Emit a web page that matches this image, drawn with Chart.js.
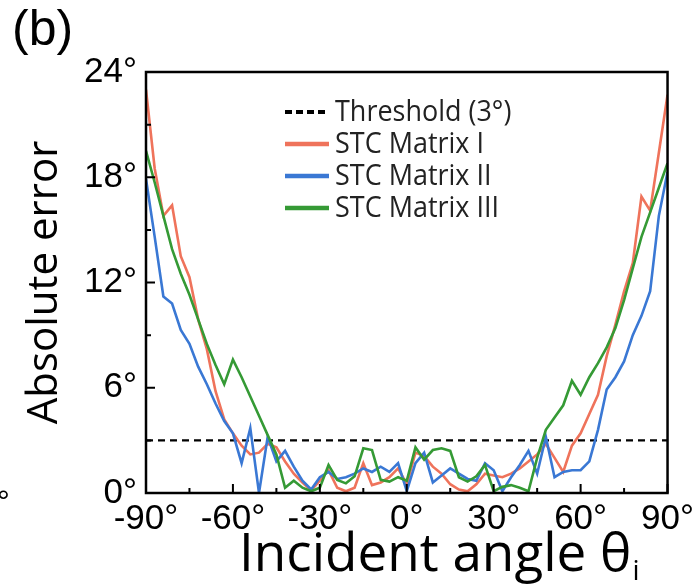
<!DOCTYPE html>
<html>
<head>
<meta charset="utf-8">
<script src="https://cdn.jsdelivr.net/npm/chart.js@4.4.0/dist/chart.umd.min.js"></script>
<style>
  body { margin: 0; background: #fff; }
  #wrap { width: 699px; height: 586px; }
</style>
</head>
<body>
<div id="wrap"><canvas id="myChart" width="699" height="586"></canvas></div>
<script>
// incident angles (deg)
const angles = [-90, -87, -84, -81, -78, -75, -72, -69, -66, -63, -60, -57, -54, -51, -48, -45, -42, -39, -36, -33,
  -30, -27, -24, -21, -18, -15, -12, -9, -6, -3, 0, 3, 6, 9, 12, 15, 18, 21, 24, 27,
  30, 33, 36, 39, 42, 45, 48, 51, 54, 57, 60, 63, 66, 69, 72, 75, 78, 81, 84, 87, 90];

// absolute error (deg)
const matrixI = [23.0, 18.5, 15.8, 16.4, 13.5, 12.3, 9.9, 8.2, 5.8, 4.2, 3.4, 2.7, 2.2, 2.3, 2.8, 2.6, 1.8, 1.1, 0.6, 0.15,
  0.7, 1.3, 0.3, 0.1, 0.3, 1.7, 0.45, 0.6, 0.9, 1.4, 0.5, 2.3, 2.1, 1.5, 1.1, 0.5, 0.2, 0.1, 0.5, 1.1,
  1.0, 0.9, 1.1, 1.4, 1.8, 2.2, 2.8, 2.0, 1.2, 2.7, 3.4, 4.5, 5.6, 7.8, 9.6, 11.5, 13.1, 16.9, 16.1, 19.4, 22.7];
const matrixII = [17.9, 14.6, 11.2, 10.8, 9.3, 8.5, 7.2, 6.2, 5.1, 4.1, 3.4, 1.7, 3.7, 0.0, 3.2, 1.8, 2.4, 1.5, 0.7, 0.2,
  0.9, 1.2, 0.8, 0.9, 1.1, 1.4, 1.2, 1.5, 1.2, 1.7, 0.1, 1.7, 2.3, 0.6, 1.0, 1.4, 1.1, 0.8, 0.7, 1.7,
  1.3, 0.1, 0.9, 1.6, 2.4, 1.1, 3.2, 0.9, 1.2, 1.3, 1.3, 1.8, 3.6, 5.9, 6.6, 7.5, 9.0, 10.1, 11.5, 15.8, 18.3];
const matrixIII = [19.5, 17.7, 15.8, 13.9, 12.5, 11.3, 9.9, 8.5, 7.3, 6.2, 7.6, 6.6, 5.5, 4.4, 3.3, 2.2, 0.3, 0.7, 0.3, 0.1,
  0.3, 1.6, 0.75, 0.55, 0.95, 2.55, 2.45, 0.75, 0.65, 0.9, 0.7, 2.6, 1.9, 2.45, 2.55, 2.4, 0.9, 0.65, 0.95, 1.6,
  0.1, 0.35, 0.45, 0.3, 0.1, 2.0, 3.6, 4.3, 5.0, 6.4, 5.6, 6.6, 7.4, 8.3, 9.4, 11.0, 12.8, 14.6, 16.0, 17.4, 18.8];
const threshold = 3;

const xMajor = [-90, -60, -30, 0, 30, 60, 90];
const xMinor = [-75, -45, -15, 15, 45, 75];
const yMajor = [0, 6, 12, 18, 24];
const yMinor = [3, 9, 15, 21];

const pts = arr => arr.map((v, i) => ({ x: angles[i], y: v }));
const tickFont = { family: '"Liberation Sans Narrow", "Liberation Sans"', size: 35 };

// box, inward ticks, legend, panel label
const decorations = {
  id: 'decorations',
  afterDraw(chart) {
    const { ctx, chartArea: a, scales: { x, y } } = chart;
    ctx.save();
    ctx.strokeStyle = '#000';
    ctx.lineWidth = 2;
    ctx.beginPath();
    xMajor.forEach(v => { const px = x.getPixelForValue(v); ctx.moveTo(px, a.bottom); ctx.lineTo(px, a.bottom - 9); });
    xMinor.forEach(v => { const px = x.getPixelForValue(v); ctx.moveTo(px, a.bottom); ctx.lineTo(px, a.bottom - 5); });
    yMajor.forEach(v => { const py = y.getPixelForValue(v); ctx.moveTo(a.left, py); ctx.lineTo(a.left + 9, py); });
    yMinor.forEach(v => { const py = y.getPixelForValue(v); ctx.moveTo(a.left, py); ctx.lineTo(a.left + 5, py); });
    ctx.stroke();
    ctx.lineWidth = 2.5;
    ctx.strokeRect(a.left, a.top, a.right - a.left, a.bottom - a.top);

    // legend
    ctx.textBaseline = 'middle';
    ctx.fillStyle = '#222';
    const rows = chart.data.datasets.slice().sort((p, q) => p.legendRank - q.legendRank);
    rows.forEach((ds, i) => {
      const ly = 112 + i * 32;
      ctx.strokeStyle = ds.borderColor;
      ctx.lineWidth = ds.borderDash ? 4 : 4.5;
      ctx.setLineDash(ds.borderDash ? [7, 4] : []);
      ctx.beginPath();
      ctx.moveTo(285, ly); ctx.lineTo(329, ly);
      ctx.stroke();
      ctx.setLineDash([]);
      ctx.save();
      ctx.translate(335, ly + 1);
      ctx.scale(0.93, 1);
      ctx.font = '29px "Open Sans"';
      ctx.fillText(ds.label, 0, 0);
      ctx.restore();
    });

    // panel label and x title
    ctx.fillStyle = '#000';
    ctx.textBaseline = 'alphabetic';
    ctx.font = '50px "Liberation Sans"';
    ctx.fillText('(b)', 12, 45);
    ctx.font = '32px "Liberation Sans"';
    ctx.fillText('°', -3, 512);
    ctx.font = '53px "Open Sans"';
    const t = 'Incident angle θ';
    ctx.fillText(t, 239, 571);
    const w = ctx.measureText(t).width;
    ctx.font = '28px "Open Sans"';
    ctx.fillText('i', 239 + w + 1, 580);
    ctx.restore();
  }
};

new Chart(document.getElementById('myChart'), {
  type: 'line',
  data: {
    datasets: [
      { label: 'Threshold (3°)', data: [{ x: -90, y: threshold }, { x: 90, y: threshold }], borderColor: '#000',
        borderWidth: 2.2, borderDash: [7, 5], order: 4, legendRank: 0 },
      { label: 'STC Matrix I', data: pts(matrixI), borderColor: '#ef735b', borderWidth: 2.6, order: 3, legendRank: 1 },
      { label: 'STC Matrix II', data: pts(matrixII), borderColor: '#3a78d4', borderWidth: 2.6, order: 2, legendRank: 2 },
      { label: 'STC Matrix III', data: pts(matrixIII), borderColor: '#359a35', borderWidth: 2.6, order: 1, legendRank: 3 }
    ]
  },
  options: {
    responsive: false,
    animation: false,
    layout: { padding: { left: 0, top: 72, right: 24, bottom: 0 } },
    elements: { point: { radius: 0 }, line: { tension: 0 } },
    plugins: { legend: { display: false }, tooltip: { enabled: false } },
    scales: {
      x: {
        type: 'linear', min: -90, max: 90,
        grid: { display: false, drawTicks: false },
        border: { display: false },
        afterBuildTicks: s => { s.ticks = xMajor.map(v => ({ value: v })); },
        afterFit: s => { s.height = 93; },
        ticks: { callback: v => v + '°', color: '#000', padding: 5, maxRotation: 0, font: tickFont }
      },
      y: {
        min: 0, max: 24,
        grid: { display: false, drawTicks: false },
        border: { display: false },
        afterBuildTicks: s => { s.ticks = yMajor.map(v => ({ value: v })); },
        afterFit: s => { s.width = 146; },
        ticks: { callback: v => v + '°', color: '#000', padding: 9, font: tickFont },
        title: { display: true, text: 'Absolute error', color: '#000', padding: { top: 20, bottom: 0 },
          font: { family: 'Open Sans', size: 42 } }
      }
    }
  },
  plugins: [decorations]
});
</script>
</body>
</html>
